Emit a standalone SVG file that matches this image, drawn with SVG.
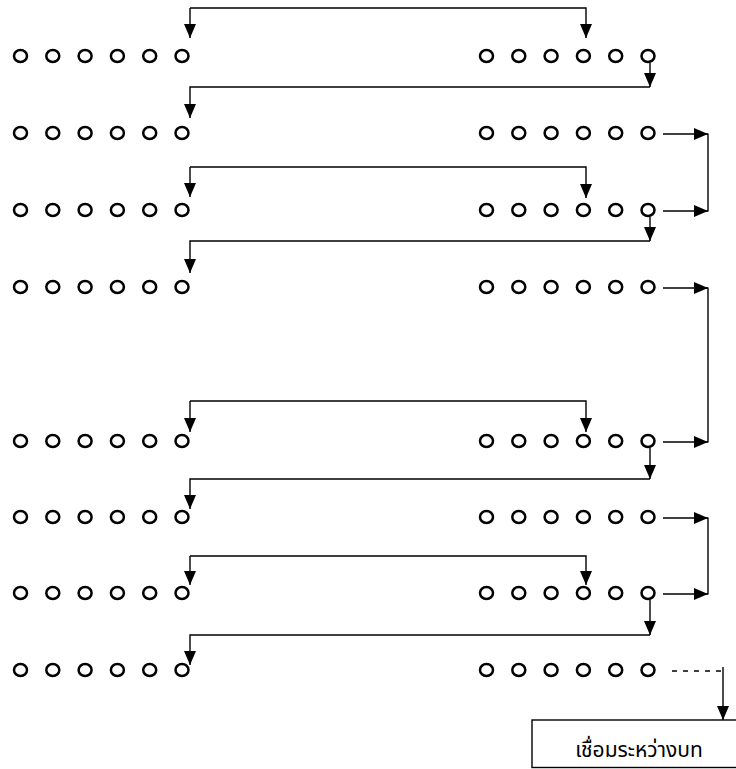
<svg xmlns="http://www.w3.org/2000/svg" width="736" height="769" viewBox="0 0 736 769">
<style>
.c{fill:none;stroke:#000;stroke-width:2.5}
.l{fill:none;stroke:#000;stroke-width:1.4}
.a{fill:none;stroke:#000;stroke-width:1.4;marker-end:url(#ah)}
.d{fill:none;stroke:#000;stroke-width:1.4;stroke-dasharray:5 6}
.t{font-family:"Noto Sans Thai","Tahoma","DejaVu Sans","Noto Sans",sans-serif;font-size:21px;fill:#000}
</style>
<defs>
<marker id="ah" markerUnits="userSpaceOnUse" markerWidth="15" markerHeight="13" refX="14" refY="6" orient="auto">
<path d="M0,0 L14,6 L0,12 z" fill="#000"/>
</marker>
<g id="row6">
<ellipse class="c" cx="0" cy="0" rx="6.5" ry="6"/>
<ellipse class="c" cx="32.3" cy="0" rx="6.5" ry="6"/>
<ellipse class="c" cx="64.6" cy="0" rx="6.5" ry="6"/>
<ellipse class="c" cx="96.9" cy="0" rx="6.5" ry="6"/>
<ellipse class="c" cx="129.2" cy="0" rx="6.5" ry="6"/>
<ellipse class="c" cx="161.5" cy="0" rx="6.5" ry="6"/>
</g>
</defs>
<rect width="736" height="769" fill="#fff"/>
<g id="left-rows">
<use id="L1" href="#row6" x="20.5" y="56"/>
<use id="L2" href="#row6" x="20.5" y="133"/>
<use id="L3" href="#row6" x="20.5" y="210"/>
<use id="L4" href="#row6" x="20.5" y="287"/>
<use id="L5" href="#row6" x="20.5" y="441"/>
<use id="L6" href="#row6" x="20.5" y="517"/>
<use id="L7" href="#row6" x="20.5" y="593"/>
<use id="L8" href="#row6" x="20.5" y="670"/>
</g>
<g id="right-rows">
<use id="R1" href="#row6" x="486.5" y="56"/>
<use id="R2" href="#row6" x="486.5" y="133"/>
<use id="R3" href="#row6" x="486.5" y="210"/>
<use id="R4" href="#row6" x="486.5" y="287"/>
<use id="R5" href="#row6" x="486.5" y="441"/>
<use id="R6" href="#row6" x="486.5" y="517"/>
<use id="R7" href="#row6" x="486.5" y="593"/>
<use id="R8" href="#row6" x="486.5" y="670"/>
</g>
<g id="box">
<rect x="532" y="720" width="220" height="47.5" fill="#fff" stroke="#000" stroke-width="1.4"/>
<text class="t" x="639" y="757" text-anchor="middle">เชื่อมระหว่างบท</text>
</g>
<g id="connectors">
<path class="a" d="M190,8 H586 V38"/>
<path class="a" d="M190,8 V38"/>
<path class="a" d="M650,63 V87"/>
<path class="a" d="M650,87 H190 V118"/>
<path class="a" d="M190,167 H586 V198"/>
<path class="a" d="M190,167 V197"/>
<path class="a" d="M650,217 V241"/>
<path class="a" d="M650,241 H190 V273"/>
<path class="a" d="M190,401 H586 V432"/>
<path class="a" d="M190,401 V432"/>
<path class="a" d="M650,448 V479"/>
<path class="a" d="M650,479 H190 V509"/>
<path class="a" d="M190,556 H586 V585"/>
<path class="a" d="M190,556 V585"/>
<path class="a" d="M650,600 V635"/>
<path class="a" d="M650,635 H190 V665"/>
<path class="a" d="M663,134 H708"/>
<path class="a" d="M663,211 H708"/>
<path class="l" d="M708,133.5 V211.5"/>
<path class="a" d="M663,288 H708"/>
<path class="a" d="M663,442 H708"/>
<path class="l" d="M708,287.5 V442.5"/>
<path class="a" d="M663,518 H708"/>
<path class="a" d="M663,594 H708"/>
<path class="l" d="M708,517.5 V594.5"/>
<path class="d" d="M672,671 H727"/>
<path class="a" d="M723,667 V720"/>
</g>
</svg>
